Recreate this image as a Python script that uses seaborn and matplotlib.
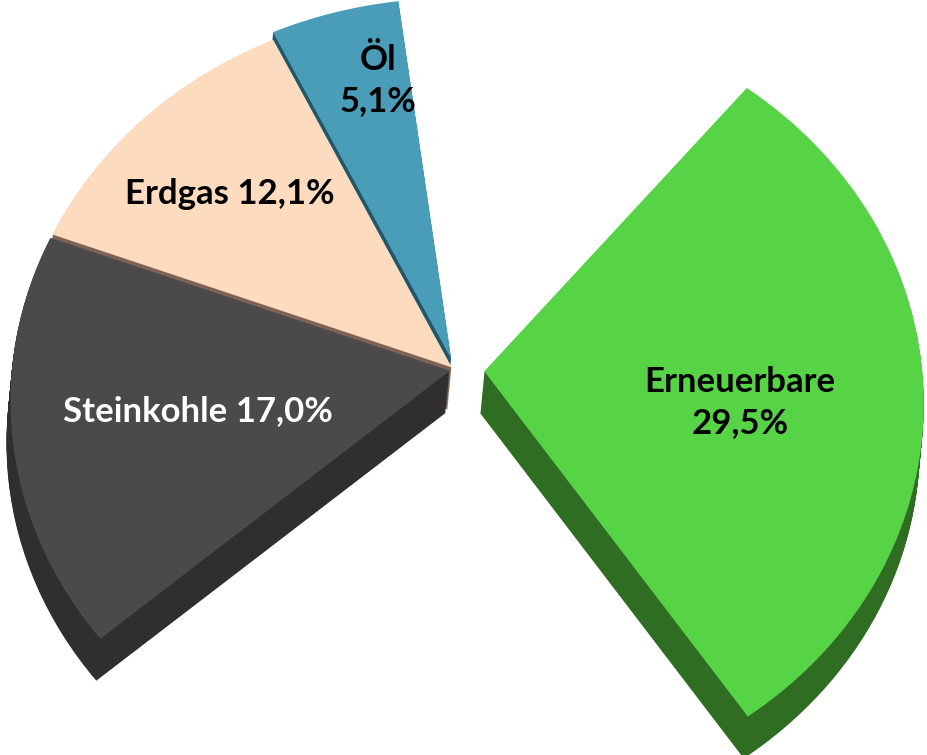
import numpy as np
import matplotlib
matplotlib.use("Agg")
import matplotlib.pyplot as plt
from matplotlib.transforms import Transform, Affine2D
import seaborn as sns

# Strommix shares in percent; the two unlabeled shares stay blank in the drawing
sources = ["Erneuerbare", "", "Öl", "Erdgas", "Steinkohle", ""]
shares = [29.5, 13.1, 5.1, 12.1, 17.0, 23.1]
labels = ["Erneuerbare\n29,5%", "", "Öl\n5,1%", "Erdgas 12,1%", "Steinkohle 17,0%", ""]

top_colors = ["#56D446", "none", "#4A9DB8", "#FDDBBF", "#4A4A4A", "none"]
side_colors = ["#2F6E22", "none", "#1F566A", "#7D6352", "#2F2F2F", "none"]
label_colors = ["black", None, "black", "black", "white", None]
label_radius = [0.585, 0, 0.78, 0.70, 0.58, 0]
label_turn = [-5.0, 0, -3.5, 1.0, 0, 0]   # degrees, nudges label off the wedge bisector
explode = [0.067, 0, 0.03, 0.01, 0.012, 0]


class Tilt(Transform):
    """Perspective view of the pie plane: the far (upper) side shrinks."""
    input_dims = 2
    output_dims = 2
    is_separable = False

    def __init__(self, sx=0.973, sy=1.068, c=0.0765):
        super().__init__()
        self.sx, self.sy, self.c = sx, sy, c

    def transform_non_affine(self, values):
        v = np.asarray(values, dtype=float)
        g = 1.0 / (1.0 + self.c * v[:, 1])
        return np.column_stack([self.sx * v[:, 0] * g, self.sy * v[:, 1] * g])


sns.set_theme(style="white")
plt.rcParams["font.family"] = ["Lato", "DejaVu Sans"]

fig = plt.figure(figsize=(9.28, 7.55), dpi=100)
ax = fig.add_axes([0, 0, 1, 1])
tilt = Tilt()

start = -56.0
# extruded body: stacked copies shifted downward give the slab its thickness
depth = np.array([-0.009, -0.115])
for t in np.linspace(1.0, 0.02, 40):
    side, _ = ax.pie(shares, colors=side_colors, startangle=start, counterclock=True,
                     explode=explode, radius=1.0, wedgeprops=dict(linewidth=0))
    shift = Affine2D().translate(depth[0] * t, depth[1] * t)
    for w in side:
        w.set_transform(tilt + shift + ax.transData)

wedges, _ = ax.pie(shares, colors=top_colors, startangle=start, counterclock=True,
                   explode=explode, radius=1.0, wedgeprops=dict(linewidth=0))
for w in wedges:
    w.set_transform(tilt + ax.transData)

for w, lab, col, r, turn in zip(wedges, labels, label_colors, label_radius, label_turn):
    if not lab:
        continue
    mid = np.deg2rad((w.theta1 + w.theta2) / 2 + turn)
    cx, cy = w.center
    px, py = tilt.transform(np.array([[cx + r * np.cos(mid), cy + r * np.sin(mid)]]))[0]
    ax.text(px, py, lab, ha="center", va="center", fontsize=25, fontweight="bold",
            color=col, linespacing=1.35)

ax.set_aspect("auto")
ax.set_xlim(-1.011, 1.051)
ax.set_ylim(-1.055, 1.014)
ax.axis("off")

fig.savefig("out.png", dpi=100, facecolor="white")
